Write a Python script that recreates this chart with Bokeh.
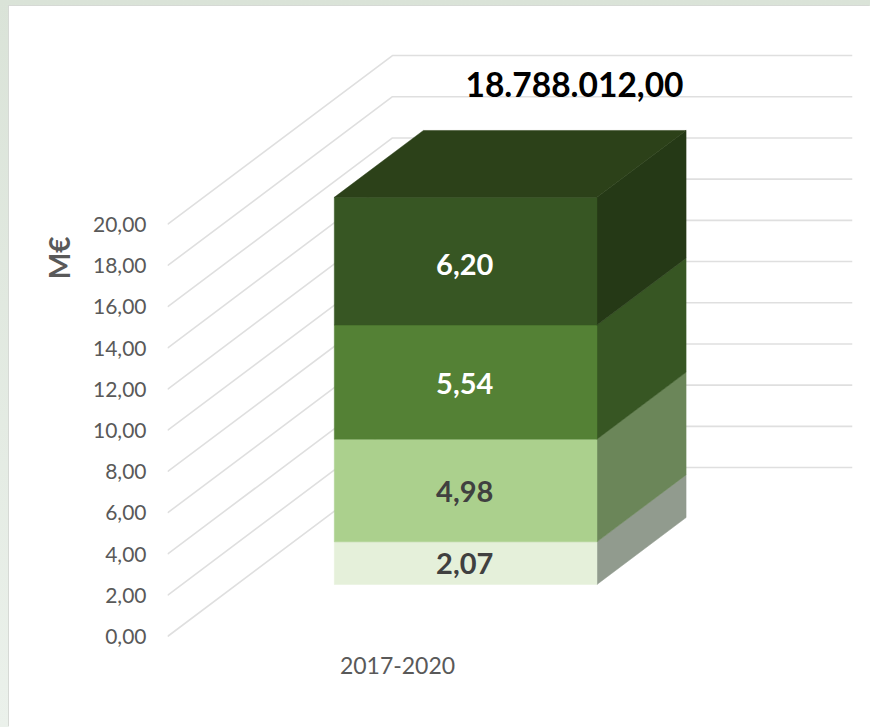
from bokeh.plotting import figure
from bokeh.embed import file_html
from bokeh.resources import INLINE
from bokeh.layouts import column
from bokeh.models import Range1d, FixedTicker, Title, ColumnDataSource
from bokeh.core.properties import value

# --- data ---
period = "2017-2020"
values = [2.07, 4.98, 5.54, 6.20]
value_labels = ["2,07", "4,98", "5,54", "6,20"]
total_label = "18.788.012,00"
y_ticks = [0, 2, 4, 6, 8, 10, 12, 14, 16, 18, 20]
y_tick_labels = ["0,00", "2,00", "4,00", "6,00", "8,00", "10,00", "12,00", "14,00", "16,00", "18,00", "20,00"]
axis_title = "M€"

# --- styles ---
front_colors = ["#E5F0DA", "#ABD08D", "#548135", "#375623"]
side_colors = ["#919B8E", "#6B8659", "#375623", "#253916"]
top_color = "#2C4119"
label_colors = ["#404040", "#404040", "#FFFFFF", "#FFFFFF"]
label_offsets = [-0.03, -0.03, -0.08, -0.14]
grid_color = "#DFDFDF"
FONT = "Lato"

# oblique projection: depth 0..1 shifts a point right (x units) and up (value units)
SHIFT_X = 0.489
SHIFT_Y = 8.2
BAR_CENTER = 0.4975
BAR_WIDTH = 0.571
DEPTH_FRONT = 0.308
DEPTH_BACK = 0.704


def px(x, d):
    return x + d * SHIFT_X


def py(v, d):
    return v + d * SHIFT_Y


p = figure(
    width=861, height=721, output_backend="svg", toolbar_location=None,
    x_range=Range1d(0, 1 + SHIFT_X), y_range=Range1d(-0.68, 29.9),
    min_border_left=158, min_border_right=18, min_border_top=14, min_border_bottom=77,
    background_fill_alpha=0, border_fill_alpha=0,
    margin=(6, 0, 0, 9),
    styles={"background": "white", "box-shadow": "-1px -1px 0 #D6D9D5"},
)
p.outline_line_color = None
p.grid.visible = False

# walls and floor lines
p.multi_line(
    xs=[[0, SHIFT_X, 1 + SHIFT_X] for _ in y_ticks],
    ys=[[v, py(v, 1), py(v, 1)] for v in y_ticks],
    line_color=grid_color, line_width=1.6,
)

# stacked bar
left = BAR_CENTER - BAR_WIDTH / 2
right = BAR_CENTER + BAR_WIDTH / 2
base = 0.0
mids = []
for v, fc, sc in zip(values, front_colors, side_colors):
    top = base + v
    p.patch(
        [px(right, DEPTH_FRONT), px(right, DEPTH_BACK), px(right, DEPTH_BACK), px(right, DEPTH_FRONT)],
        [py(base, DEPTH_FRONT), py(base, DEPTH_BACK), py(top, DEPTH_BACK), py(top, DEPTH_FRONT)],
        fill_color=sc, line_color=sc, line_width=0.5,
    )
    p.patch(
        [px(left, DEPTH_FRONT), px(right, DEPTH_FRONT), px(right, DEPTH_FRONT), px(left, DEPTH_FRONT)],
        [py(base, DEPTH_FRONT), py(base, DEPTH_FRONT), py(top, DEPTH_FRONT), py(top, DEPTH_FRONT)],
        fill_color=fc, line_color=fc, line_width=0.5,
    )
    mids.append((base + top) / 2)
    base = top

total = base
p.patch(
    [px(left, DEPTH_FRONT), px(right, DEPTH_FRONT), px(right, DEPTH_BACK), px(left, DEPTH_BACK)],
    [py(total, DEPTH_FRONT), py(total, DEPTH_FRONT), py(total, DEPTH_BACK), py(total, DEPTH_BACK)],
    fill_color=top_color, line_color=top_color, line_width=0.5,
)

# value labels
src = ColumnDataSource(dict(
    x=[px(BAR_CENTER, DEPTH_FRONT) - 0.002] * len(values),
    y=[py(m, DEPTH_FRONT) + o for m, o in zip(mids, label_offsets)],
    text=value_labels, color=label_colors,
))
p.text("x", "y", text="text", text_color="color", source=src, text_align="center",
       text_baseline="middle", text_font=value(FONT), text_font_size="29px", text_font_style="bold")

# total label
p.text([px(BAR_CENTER, DEPTH_BACK) + 0.043], [py(total, DEPTH_BACK) + 2.25], text=[total_label],
       text_color="#000000", text_align="center", text_baseline="middle",
       text_font=value(FONT), text_font_size="33.5px", text_font_style="bold")

# axes
ya = p.yaxis[0]
ya.ticker = FixedTicker(ticks=y_ticks)
ya.major_label_overrides = dict(zip(y_ticks, y_tick_labels))
ya.axis_line_color = None
ya.major_tick_line_color = None
ya.minor_tick_line_color = None
ya.major_label_standoff = 15
ya.major_label_text_font = FONT
ya.major_label_text_font_size = "21px"
ya.major_label_text_color = "#595959"

# the axis title sits high on the left, so it is a side title with an offset
p.add_layout(Title(text=axis_title, align="right", offset=216, standoff=30,
                   text_font=FONT, text_font_size="28px", text_font_style="bold",
                   text_color="#595959"), "left")

xa = p.xaxis[0]
xa.ticker = FixedTicker(ticks=[0.5])
xa.major_label_overrides = {0.5: period}
xa.axis_line_color = None
xa.major_tick_line_color = None
xa.minor_tick_line_color = None
xa.major_label_standoff = 0
xa.major_label_text_font = FONT
xa.major_label_text_font_size = "23px"
xa.major_label_text_color = "#595959"

page = column(p, width=870, height=727, styles={
    "position": "absolute", "left": "0", "top": "0",
    "background": "linear-gradient(to bottom, #DAE3D8, #EBF1EB)",
})

open("out.html", "w").write(file_html(page, INLINE))
